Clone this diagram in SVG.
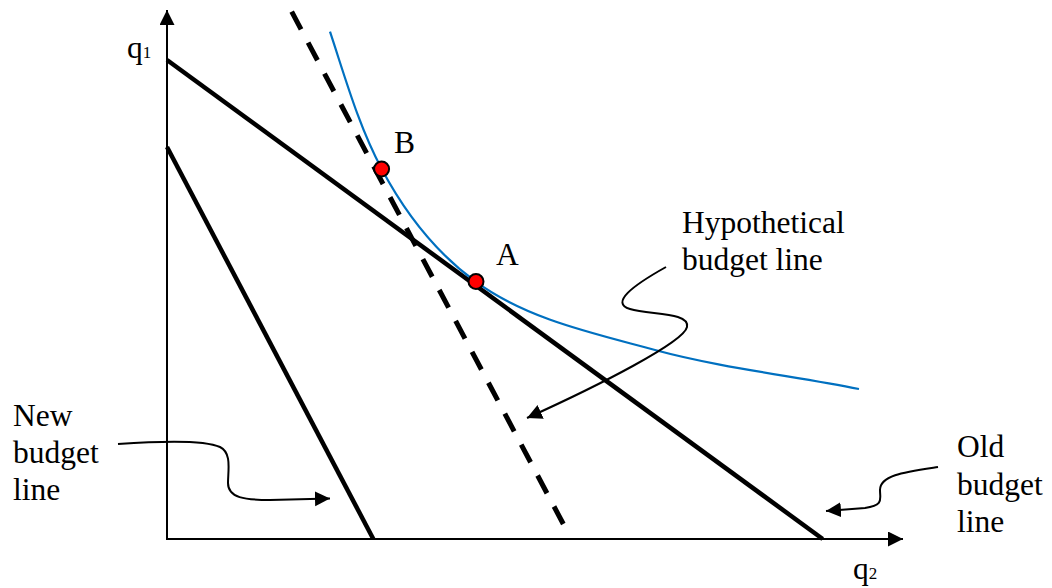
<svg xmlns="http://www.w3.org/2000/svg" width="1052" height="588" viewBox="0 0 1052 588">
<style>
  .t { font-family: "Liberation Serif", "DejaVu Serif", "Times New Roman", serif; font-size: 31.5px; fill: #000; }
  .sub { font-size: 17px; }
  .axis { stroke: #000; stroke-width: 2; fill: none; }
  .budget { stroke: #000; stroke-width: 4.5; fill: none; }
  .dashed { stroke: #000; stroke-width: 5; fill: none; stroke-dasharray: 20 15; }
  .curve { stroke: #0070C0; stroke-width: 2.2; fill: none; }
  .pointer { stroke: #000; stroke-width: 2; fill: none; }
  .dot { fill: #FF0000; stroke: #000; stroke-width: 2; }
</style>
<defs>
  <marker id="arrow" markerUnits="userSpaceOnUse" markerWidth="16" markerHeight="16" viewBox="0 0 16 16" refX="15" refY="7.5" orient="auto">
    <path d="M0,0 L15,7.5 L0,15 Z" fill="#000"/>
  </marker>
</defs>

<g id="axes">
  <line class="axis" x1="167" y1="539" x2="167" y2="10" marker-end="url(#arrow)"/>
  <line class="axis" x1="166" y1="539" x2="903" y2="539" marker-end="url(#arrow)"/>
  <text class="t" x="127" y="58"><tspan>q</tspan><tspan class="sub">1</tspan></text>
  <text class="t" x="853" y="579"><tspan>q</tspan><tspan class="sub">2</tspan></text>
</g>

<g id="old-budget-line">
  <line class="budget" x1="167" y1="60" x2="822.7" y2="539"/>
</g>
<g id="new-budget-line">
  <line class="budget" x1="167" y1="147" x2="373.3" y2="539"/>
</g>
<g id="hypothetical-budget-line">
  <line class="dashed" x1="291.7" y1="11.7" x2="563.3" y2="524"/>
</g>
<g id="indifference-curve">
  <path class="curve" d="M330,31.7 C345.5,78.5 358.7,126 381.7,169 C404.7,212.3 436.2,252.8 475.7,281.7 C527.3,319.5 593.2,333.2 655,350 C720.6,367.8 792.3,375.8 859,389"/>
</g>
<g id="point-B">
  <circle class="dot" cx="381.6" cy="169" r="7.5"/>
  <text class="t" x="394" y="153">B</text>
</g>
<g id="point-A">
  <circle class="dot" cx="476" cy="281.5" r="7.5"/>
  <text class="t" x="496" y="265">A</text>
</g>

<g id="label-hypothetical">
  <text class="t" x="682" y="233">Hypothetical</text>
  <text class="t" x="682" y="270">budget line</text>
</g>
<g id="label-new">
  <text class="t" x="13" y="426">New</text>
  <text class="t" x="13" y="463">budget</text>
  <text class="t" x="13" y="500">line</text>
</g>
<g id="label-old">
  <text class="t" x="957" y="457">Old</text>
  <text class="t" x="957" y="495">budget</text>
  <text class="t" x="957" y="532">line</text>
</g>

<g id="connectors">
  <path class="pointer" d="M666,267 C632,286 610,303 630,309 C650,315 690,312 687,327 C684,342 600,385 527,418" marker-end="url(#arrow)"/>
  <path class="pointer" d="M118,444 C160,441 205,440 220,447 C232,453 228,470 228,483 C228,498 245,500 270,500 L330,498.5" marker-end="url(#arrow)"/>
  <path class="pointer" d="M938,467 C905,472 880,475 880,490 C880,500 884,505 865,508 L826,511" marker-end="url(#arrow)"/>
</g>
</svg>
